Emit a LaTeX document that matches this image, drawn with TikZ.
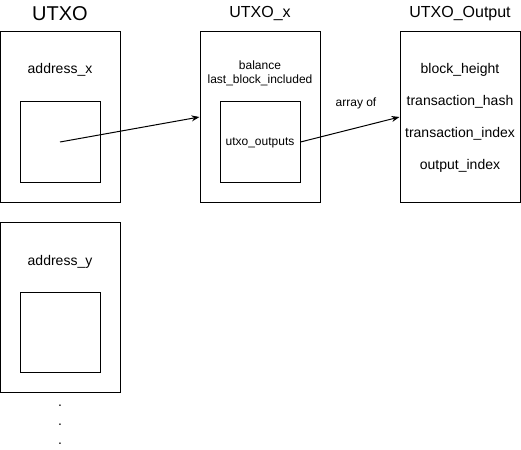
\documentclass[tikz,border=0pt]{standalone}
\usepackage{fontspec}
\setmainfont{Liberation Sans}
\usetikzlibrary{arrows.meta}
\begin{document}
\begin{tikzpicture}[x=1pt,y=-1pt,
  box/.style={draw,line width=1pt,minimum width=120pt,minimum height=170pt,inner sep=0pt},
  inbox/.style={draw,line width=1pt,minimum width=80pt,minimum height=80pt,inner sep=0pt},
  title/.style={font=\fontsize{16}{19}\selectfont,inner sep=0pt},
  lbl/.style={font=\fontsize{14}{16}\selectfont,inner sep=0pt},
  small/.style={font=\fontsize{12}{14}\selectfont,inner sep=0pt,align=center},
  arr/.style={line width=1pt,-{Stealth[length=8pt,width=6pt]}}]
\useasboundingbox (0,0) rectangle (521,449);
% titles
\node[title,font=\fontsize{20}{24}\selectfont] (t1) at (60,14) {UTXO};
\node[title] (t2) at (260,14) {UTXO\_x};
\node[title] (t3) at (460,14) {UTXO\_Output};
% UTXO boxes
\node[box] (b1) at (60,117) {};
\node[inbox] (i1) at (60,142) {};
\node[lbl] (ax) at (60,70) {address\_x};
\node[box] (b4) at (60,307) {};
\node[inbox] (i4) at (60,332) {};
\node[lbl] (ay) at (60,262) {address\_y};
% dots
\node[lbl] (d1) at (60,406) {.};
\node[lbl] (d2) at (60,425) {.};
\node[lbl] (d3) at (60,444) {.};
% UTXO_x
\node[box] (b2) at (260,117) {};
\node[inbox] (i2) at (260,142) {};
\node[small] (bal) at (260,73) {balance\\last\_block\_included};
\node[small] (uo) at (260,143) {utxo\_outputs};
% UTXO_Output
\node[box] (b3) at (460,117) {};
\node[lbl] (f1) at (460,70) {block\_height};
\node[lbl] (f2) at (460,102) {transaction\_hash};
\node[lbl] (f3) at (460,134) {transaction\_index};
\node[lbl] (f4) at (460,166) {output\_index};
\node[small] (arrof) at (356,103) {array of};
% connectors
\coordinate (s1) at (60,142);
\coordinate (e1) at (b2.west |- 0,117);
\coordinate (s2) at (i2.east |- 0,142);
\coordinate (e2) at (b3.west |- 0,117);
\draw[arr] (s1) -- (e1);
\draw[arr] (s2) -- (e2);
\end{tikzpicture}
\end{document}
